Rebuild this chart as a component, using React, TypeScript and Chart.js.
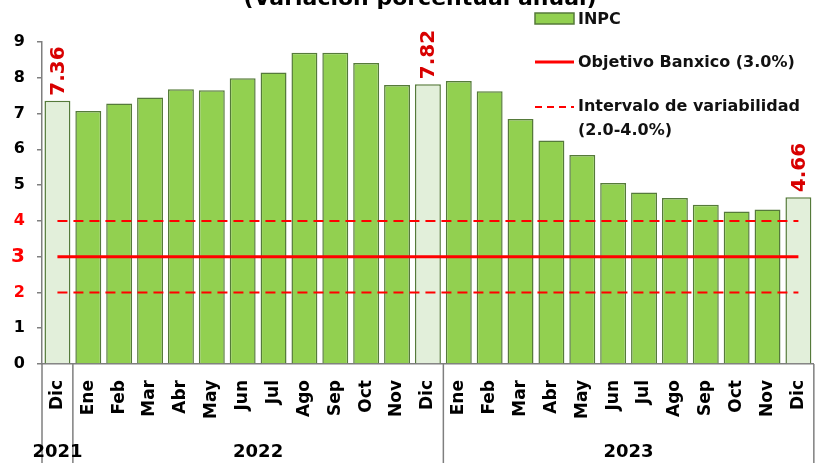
import React, { useEffect, useRef } from 'react';
import { Chart, registerables } from 'chart.js';

Chart.register(...registerables);

const months = ['Dic', 'Ene', 'Feb', 'Mar', 'Abr', 'May', 'Jun', 'Jul', 'Ago', 'Sep', 'Oct', 'Nov', 'Dic', 'Ene', 'Feb', 'Mar', 'Abr', 'May', 'Jun', 'Jul', 'Ago', 'Sep', 'Oct', 'Nov', 'Dic'];
const inpc = [7.36, 7.07, 7.28, 7.45, 7.68, 7.65, 7.99, 8.15, 8.70, 8.70, 8.41, 7.80, 7.82, 7.91, 7.62, 6.85, 6.25, 5.84, 5.06, 4.79, 4.64, 4.45, 4.26, 4.32, 4.66];
const objetivo = [3, 3, 3, 3, 3, 3, 3, 3, 3, 3, 3, 3, 3, 3, 3, 3, 3, 3, 3, 3, 3, 3, 3, 3, 3];
const intervaloSup = [4, 4, 4, 4, 4, 4, 4, 4, 4, 4, 4, 4, 4, 4, 4, 4, 4, 4, 4, 4, 4, 4, 4, 4, 4];
const intervaloInf = [2, 2, 2, 2, 2, 2, 2, 2, 2, 2, 2, 2, 2, 2, 2, 2, 2, 2, 2, 2, 2, 2, 2, 2, 2];
const highlighted = [0, 12, 24];
const yearLabels = ['2021', '2022', '2023'];
const yearStart = [0, 1, 13];
const yearEnd = [0, 12, 24];
const redTicks = [2, 3, 4];
const titleText = '(Variación porcentual anual)';
const legendLabels = ['INPC', 'Objetivo Banxico (3.0%)', 'Intervalo de variabilidad', '(2.0-4.0%)'];

const FONT = '"DejaVu Sans", sans-serif';
const GREEN = '#92D050';
const PALE = '#E2EFDA';
const EDGE = '#557A3A';
const RED = '#FF0000';
const LABEL_RED = '#D80000';
const GREY = '#7F7F7F';

const overlayPlugin = {
  id: 'overlay',
  afterDraw(chart: any) {
    const ctx = chart.ctx as CanvasRenderingContext2D;
    const xs = chart.scales.x;
    const ys = chart.scales.y;
    const area = chart.chartArea;
    const H = chart.height;

    // title (mostly cut off at top)
    ctx.save();
    ctx.fillStyle = '#000';
    ctx.font = `bold 22px ${FONT}`;
    ctx.textAlign = 'center';
    ctx.textBaseline = 'alphabetic';
    ctx.fillText(titleText, 420, 5);
    ctx.restore();

    // value labels
    ctx.save();
    ctx.fillStyle = LABEL_RED;
    ctx.font = `bold 20px ${FONT}`;
    ctx.textAlign = 'left';
    ctx.textBaseline = 'middle';
    highlighted.forEach((i) => {
      const x = xs.getPixelForValue(i);
      const y = ys.getPixelForValue(inpc[i]);
      ctx.save();
      ctx.translate(x + 1, y - 5);
      ctx.rotate(-Math.PI / 2);
      ctx.fillText(inpc[i].toFixed(2), 0, 0);
      ctx.restore();
    });
    ctx.restore();

    // year separators and labels
    ctx.save();
    ctx.strokeStyle = GREY;
    ctx.lineWidth = 1.5;
    const bounds: number[] = [area.left];
    for (let k = 0; k < yearStart.length; k++) {
      const e = yearEnd[k];
      if (e < months.length - 1) {
        bounds.push((xs.getPixelForValue(e) + xs.getPixelForValue(e + 1)) / 2);
      } else {
        bounds.push(area.right);
      }
    }
    bounds.forEach((bx) => {
      ctx.beginPath();
      ctx.moveTo(bx, area.bottom);
      ctx.lineTo(bx, H);
      ctx.stroke();
    });
    ctx.fillStyle = '#000';
    ctx.font = `bold 18px ${FONT}`;
    ctx.textAlign = 'center';
    ctx.textBaseline = 'middle';
    for (let k = 0; k < yearLabels.length; k++) {
      const cx = (xs.getPixelForValue(yearStart[k]) + xs.getPixelForValue(yearEnd[k])) / 2;
      ctx.fillText(yearLabels[k], cx, 452);
    }
    ctx.restore();

    // legend
    ctx.save();
    const lx0 = 535;
    const lx1 = 574;
    const tx = 578;
    ctx.fillStyle = GREEN;
    ctx.fillRect(lx0, 13, lx1 - lx0, 11);
    ctx.strokeStyle = EDGE;
    ctx.lineWidth = 1.5;
    ctx.strokeRect(lx0, 13, lx1 - lx0, 11);
    ctx.strokeStyle = RED;
    ctx.lineWidth = 3;
    ctx.beginPath();
    ctx.moveTo(lx0, 62);
    ctx.lineTo(lx1, 62);
    ctx.stroke();
    ctx.lineWidth = 2;
    ctx.setLineDash([7, 5]);
    ctx.beginPath();
    ctx.moveTo(lx0, 107);
    ctx.lineTo(lx1, 107);
    ctx.stroke();
    ctx.setLineDash([]);
    ctx.fillStyle = '#111';
    ctx.font = `bold 16px ${FONT}`;
    ctx.textAlign = 'left';
    ctx.textBaseline = 'middle';
    ctx.fillText(legendLabels[0], tx, 20);
    ctx.fillText(legendLabels[1], tx, 63);
    ctx.fillText(legendLabels[2], tx, 107);
    ctx.fillText(legendLabels[3], tx, 131);
    ctx.restore();
  },
};

export default function App() {
  const ref = useRef<HTMLCanvasElement | null>(null);

  useEffect(() => {
    document.body.style.margin = '0';
    const canvas = ref.current;
    if (!canvas) return;
    const chart = new Chart(canvas, {
      type: 'bar',
      data: {
        labels: months,
        datasets: [
          {
            type: 'line',
            label: 'Objetivo Banxico (3.0%)',
            data: objetivo,
            borderColor: RED,
            borderWidth: 3,
            pointRadius: 0,
            fill: false,
            order: 0,
          } as any,
          {
            type: 'line',
            label: 'Intervalo sup',
            data: intervaloSup,
            borderColor: RED,
            borderWidth: 2,
            borderDash: [10, 6],
            pointRadius: 0,
            fill: false,
            order: 0,
          },
          {
            type: 'line',
            label: 'Intervalo inf',
            data: intervaloInf,
            borderColor: RED,
            borderWidth: 2,
            borderDash: [10, 6],
            pointRadius: 0,
            fill: false,
            order: 0,
          },
          {
            type: 'bar',
            label: 'INPC',
            data: inpc,
            backgroundColor: inpc.map((_, i) => (highlighted.includes(i) ? PALE : GREEN)),
            borderColor: EDGE,
            borderWidth: 1.5,
            barPercentage: 0.84,
            categoryPercentage: 1,
            order: 1,
          },
        ],
      },
      options: {
        responsive: false,
        animation: false,
        layout: { padding: { top: 42, right: 10, left: 0, bottom: 0 } },
        plugins: {
          legend: { display: false },
          title: { display: false },
          tooltip: { enabled: false },
        },
        scales: {
          x: {
            type: 'category',
            offset: true,
            grid: { display: false },
            border: { display: true, color: GREY, width: 1.5 },
            ticks: {
              autoSkip: false,
              maxRotation: 90,
              minRotation: 90,
              color: '#000',
              padding: 8,
              font: { family: FONT, weight: 'bold', size: 17 },
            },
            afterFit: (s: any) => {
              s.height = 99;
            },
          },
          y: {
            min: 0,
            max: 9,
            ticks: {
              stepSize: 1,
              padding: 12,
              color: (c: any) => (redTicks.includes(c.tick.value) ? RED : '#000'),
              font: (c: any) => ({
                family: FONT,
                weight: 'bold',
                size: c.tick && c.tick.value === 3 ? 20 : 16,
              }),
            },
            grid: {
              drawOnChartArea: false,
              drawTicks: true,
              tickLength: 5,
              color: GREY,
              lineWidth: 1.5,
            },
            border: { display: true, color: GREY, width: 1.5 },
            afterFit: (s: any) => {
              s.width = 42;
            },
          },
        },
      } as any,
      plugins: [overlayPlugin],
    });
    return () => chart.destroy();
  }, []);

  return (
    <div style={{ width: 827, height: 463, background: '#fff' }}>
      <canvas ref={ref} width={827} height={463} style={{ display: 'block' }} />
    </div>
  );
}
